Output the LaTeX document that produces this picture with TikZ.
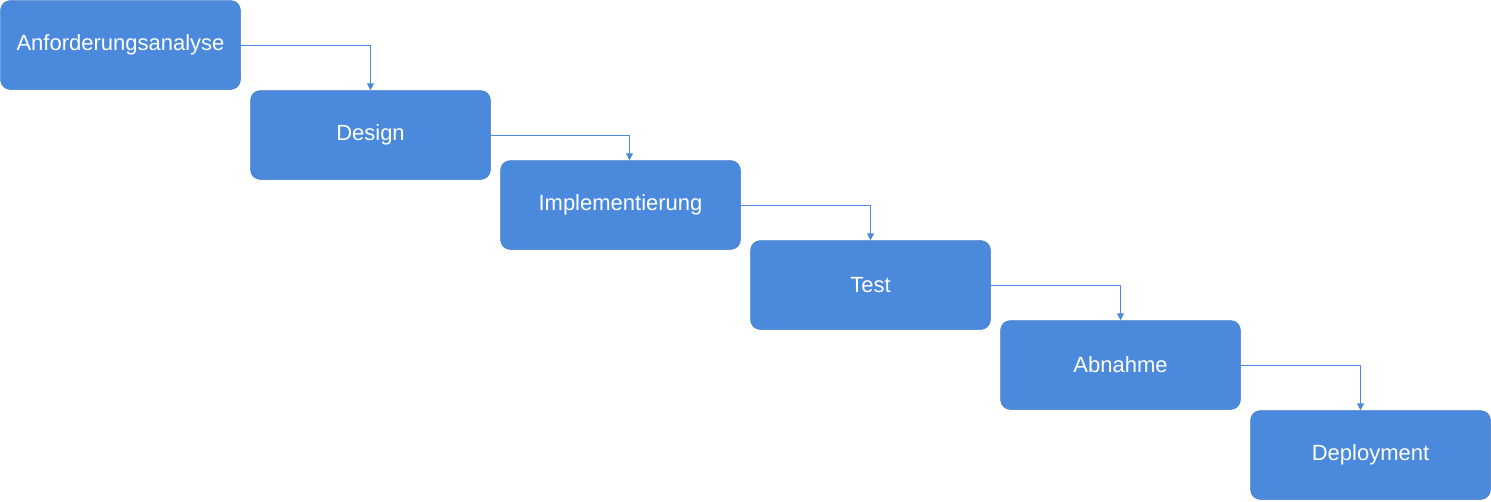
\documentclass[tikz,border=0pt]{standalone}
\usepackage{fontspec}
\setmainfont{Liberation Sans}
\usetikzlibrary{arrows.meta}
\definecolor{phase}{HTML}{4A89DC}
\begin{document}
\begin{tikzpicture}[x=1pt,y=-1pt,
  phasebox/.style={draw=phase!92!black,line width=0.5pt,fill=phase,rounded corners=10pt,
    minimum width=240pt,minimum height=89pt,text=white,
    font=\fontsize{22}{26}\selectfont},
  flow/.style={draw=phase,line width=1pt,-{Triangle[length=7pt,width=7pt]}}]
\useasboundingbox (0,0) rectangle (1491,501);
\node[phasebox] (req) at (120.5,45) {Anforderungsanalyse};
\node[phasebox] (des) at (370.5,135) {Design};
\node[phasebox] (imp) at (620.5,205) {Implementierung};
\node[phasebox] (tst) at (870.5,285) {Test};
\node[phasebox] (acc) at (1120.5,365) {Abnahme};
\node[phasebox] (dep) at (1370.5,455) {Deployment};
\draw[flow] (req.east) -| (des.north);
\draw[flow] (des.east) -| ([xshift=9pt]imp.north);
\draw[flow] (imp.east) -| (tst.north);
\draw[flow] (tst.east) -| (acc.north);
\draw[flow] (acc.east) -| ([xshift=-10pt]dep.north);
\end{tikzpicture}
\end{document}
